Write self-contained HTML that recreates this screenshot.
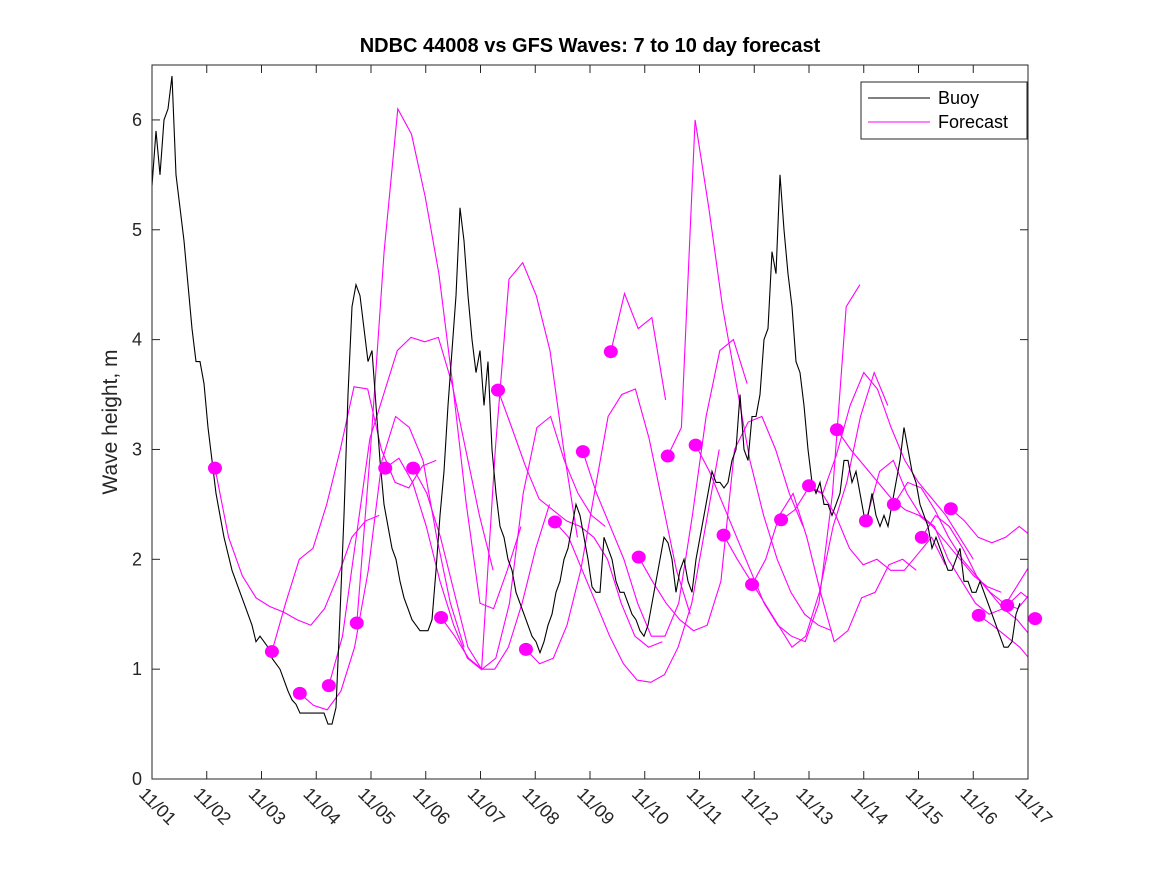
<!DOCTYPE html>
<html><head><meta charset="utf-8"><style>
body{margin:0;background:#fff;}
svg{display:block;font-family:"Liberation Sans",sans-serif;}
</style></head><body>
<svg id="chart" width="1167" height="875">
<rect x="0" y="0" width="1167" height="875" fill="#fff"/>
<defs><clipPath id="clip"><rect x="152" y="65" width="876" height="714"/></clipPath></defs>
<text x="590" y="52" text-anchor="middle" font-size="20" font-weight="bold" fill="#000">NDBC 44008 vs GFS Waves: 7 to 10 day forecast</text>
<g id="axes"></g>
<g id="forecasts" clip-path="url(#clip)"></g>
<g id="buoy" clip-path="url(#clip)"></g>
<g id="dots"></g>
<rect x="152" y="65" width="876" height="714" fill="none" stroke="#262626" stroke-width="1"/>
<text transform="translate(117,422) rotate(-90)" text-anchor="middle" font-size="21" fill="#262626">Wave height, m</text>
<g>
<rect x="861" y="82" width="166" height="57" fill="#fff" stroke="#262626"/>
<line x1="868" y1="98" x2="930" y2="98" stroke="#000"/>
<text x="938" y="104" font-size="18" fill="#000">Buoy</text>
<line x1="868" y1="122" x2="930" y2="122" stroke="#ff00ff"/>
<text x="938" y="128" font-size="18" fill="#000">Forecast</text>
</g>
</svg>
<script>
const xTickLabels=["11/01","11/02","11/03","11/04","11/05","11/06","11/07","11/08","11/09","11/10","11/11","11/12","11/13","11/14","11/15","11/16","11/17"];
const yTicks=[0,1,2,3,4,5,6];
const buoyStart=0, buoyStep=0.07306;
const buoyValues=[5.4,5.9,5.5,6.0,6.1,6.4,5.5,5.2,4.9,4.5,4.1,3.8,3.8,3.6,3.2,2.9,2.6,2.4,2.2,2.05,1.9,1.8,1.7,1.6,1.5,1.4,1.25,1.3,1.25,1.2,1.1,1.05,1.0,0.9,0.8,0.72,0.68,0.6,0.6,0.6,0.6,0.6,0.6,0.6,0.5,0.5,0.65,1.5,2.4,3.5,4.3,4.5,4.4,4.1,3.8,3.9,3.4,2.9,2.5,2.3,2.1,2.0,1.8,1.65,1.55,1.45,1.4,1.35,1.35,1.35,1.45,1.9,2.4,2.8,3.4,3.9,4.4,5.2,4.9,4.4,4.0,3.7,3.9,3.4,3.8,3.0,2.6,2.3,2.2,2.0,1.9,1.7,1.6,1.5,1.4,1.3,1.25,1.15,1.25,1.4,1.5,1.7,1.8,2.0,2.1,2.3,2.5,2.4,2.2,2.0,1.75,1.7,1.7,2.2,2.1,2.0,1.8,1.7,1.7,1.6,1.5,1.45,1.35,1.3,1.4,1.6,1.8,2.0,2.2,2.15,2.0,1.7,1.9,2.0,1.8,1.7,2.0,2.2,2.4,2.6,2.8,2.7,2.7,2.65,2.7,2.9,3.0,3.5,3.0,2.9,3.3,3.3,3.5,4.0,4.1,4.8,4.6,5.5,5.0,4.6,4.3,3.8,3.7,3.4,3.0,2.7,2.6,2.7,2.5,2.5,2.4,2.5,2.6,2.9,2.9,2.7,2.8,2.6,2.4,2.4,2.6,2.4,2.3,2.4,2.3,2.5,2.7,2.9,3.2,3.0,2.8,2.7,2.5,2.4,2.3,2.1,2.2,2.1,2.0,1.9,1.9,2.0,2.1,1.8,1.8,1.7,1.7,1.8,1.7,1.6,1.5,1.4,1.3,1.2,1.2,1.25,1.5,1.6];
const dotDays=[1.15,2.19,2.70,3.23,3.74,4.26,4.77,5.28,6.32,6.83,7.36,7.87,8.38,8.89,9.42,9.93,10.44,10.96,11.49,12.0,12.51,13.04,13.55,14.06,14.59,15.1,15.62,16.13];
const fcStep=0.25;
const fc1=[2.83,2.2,1.85,1.65,1.57,1.52,1.45,1.4,1.55,1.85,2.2,2.35,2.4];
const fc2=[1.16,1.6,2.0,2.1,2.5,3.0,3.57,3.55,3.0,2.7,2.65,2.85,2.9];
const fc3=[0.78,0.67,0.63,0.8,1.2,1.9,2.9,3.3,3.2,2.9,2.2,1.6,1.2];
const fc4=[0.85,1.3,2.2,3.1,3.5,3.9,4.02,3.98,4.02,3.6,3.0,2.4,1.9];
const fc5=[1.42,3.0,4.8,6.1,5.87,5.3,4.6,3.6,2.5,1.6,1.55,1.9,2.3];
const fc6=[2.83,2.92,2.7,2.3,1.8,1.4,1.1,1.0,1.0,1.2,1.6,2.1,2.5];
const fc7=[2.83,2.6,2.2,1.7,1.2,1.0,3.0,4.55,4.7,4.4,3.9,3.0,2.2];
const fc8=[1.47,1.3,1.1,1.0,1.1,1.6,2.6,3.2,3.3,2.9,2.6,2.4,2.3];
const fc9=[3.54,3.2,2.85,2.55,2.45,2.35,2.3,2.2,2.0,1.6,1.3,1.2,1.25];
const fc10=[1.18,1.05,1.1,1.4,1.9,2.6,3.3,3.5,3.55,3.1,2.5,1.9,1.5];
const fc11=[2.34,2.2,1.9,1.6,1.3,1.05,0.9,0.88,0.95,1.2,1.6,2.3,3.0];
const fc12=[2.98,2.6,2.3,2.0,1.6,1.3,1.3,1.6,2.4,3.3,3.9,4.0,3.6];
const fc13=[3.89,4.42,4.1,4.2,3.45];
const fc14=[2.02,1.8,1.6,1.45,1.35,1.4,1.8,3.0,3.25,3.3,3.0,2.6,2.3];
const fc15=[2.94,3.2,6.0,5.2,4.3,3.6,2.9,2.4,2.0,1.7,1.5,1.4,1.35];
const fc16=[3.04,2.8,2.5,2.2,1.9,1.6,1.4,1.3,1.25,1.6,2.6,4.3,4.5];
const fc17=[2.22,2.0,1.8,1.6,1.4,1.2,1.3,1.7,2.3,2.7,3.3,3.7,3.4];
const fc18=[1.77,2.0,2.4,2.6,2.2,1.7,1.25,1.35,1.65,1.7,1.95,2.0,1.9];
const fc19=[2.36,2.45,2.65,2.6,2.4,2.1,1.95,2.0,1.9,1.9,2.05,2.2,1.95];
const fc20=[2.67,2.6,2.95,3.4,3.7,3.55,3.2,2.9,2.7,2.55,2.4,2.2,2.0];
const fc21=[3.18,3.0,2.85,2.7,2.55,2.45,2.4,2.3,2.15,2.0,1.85,1.75,1.7];
const fc22=[2.35,2.8,2.9,2.6,2.4,2.3,2.0,1.8,1.6,1.5,1.55,1.75,1.95];
const fc23=[2.5,2.7,2.65,2.45,2.2,2.0,1.85,1.7,1.55,1.45,1.3,1.15,1.0];
const fc24=[2.2,2.4,2.3,2.1,1.85,1.7,1.6,1.55,1.7,1.9,2.3,2.7,2.6];
const fc25=[2.46,2.35,2.2,2.15,2.2,2.3,2.2,2.05,1.9,1.75,1.6,1.4,1.2];
const fc26=[1.49,1.4,1.3,1.2,1.05,0.9,0.8,0.77,0.8,1.0,1.3,1.6,1.8];
const fc27=[1.58,1.7,1.6,1.45,1.3,1.2,1.15,1.1,1.1];
const fc28=[1.46,1.4,1.2,1.1,1.05];
const forecasts=[fc1,fc2,fc3,fc4,fc5,fc6,fc7,fc8,fc9,fc10,fc11,fc12,fc13,fc14,fc15,fc16,fc17,fc18,fc19,fc20,fc21,fc22,fc23,fc24,fc25,fc26,fc27,fc28];

const X0=152,X1=1028,Y0=779,Y1=65,DMAX=16,VMAX=6.5;
function sx(d){return X0+(X1-X0)*d/DMAX;}
function sy(v){return Y0-(Y0-Y1)*v/VMAX;}
const NS="http://www.w3.org/2000/svg";
function mk(tag,attrs,parent){const e=document.createElementNS(NS,tag);for(const k in attrs)e.setAttribute(k,attrs[k]);parent.appendChild(e);return e;}
const axes=document.getElementById('axes');
yTicks.forEach(v=>{
  const y=sy(v);
  const t1=mk('line',{x1:X0,y1:y,x2:X0+8,y2:y,stroke:'#262626'},axes);
  
  
  const t2=mk('line',{x1:X1-8,y1:y,x2:X1,y2:y,stroke:'#262626'},axes);
  
  
  const l=mk('text',{x:X0-10,y:y+6,'text-anchor':'end','font-size':'18',fill:'#262626'},axes);
  l.textContent=String(v);
  
  
});
xTickLabels.forEach((s,i)=>{
  const x=sx(i);
  const t1=mk('line',{x1:x,y1:Y0,x2:x,y2:Y0-8,stroke:'#262626'},axes);
  
  
  const t2=mk('line',{x1:x,y1:Y1,x2:x,y2:Y1+8,stroke:'#262626'},axes);
  
  
  const l=mk('text',{transform:`translate(${x-14},${Y0+16}) rotate(45)`,'font-size':'18',fill:'#262626'},axes);
  l.textContent=s;
  
  
});
const fg=document.getElementById('forecasts');
forecasts.forEach((arr,i)=>{
  const pts=arr.map((v,j)=>sx(dotDays[i]+j*fcStep).toFixed(1)+','+sy(v).toFixed(1)).join(' ');
  const p=mk('polyline',{points:pts,fill:'none',stroke:'#ff00ff','stroke-width':'1.1'},fg);
  
  
});
const bg=document.getElementById('buoy');
const bpts=buoyValues.map((v,j)=>sx(buoyStart+j*buoyStep).toFixed(1)+','+sy(v).toFixed(1)).join(' ');
const bl=mk('polyline',{points:bpts,fill:'none',stroke:'#000','stroke-width':'1.1'},bg);


const dg=document.getElementById('dots');
forecasts.forEach((arr,i)=>{
  const c=mk('ellipse',{cx:sx(dotDays[i]),cy:sy(arr[0]),rx:7,ry:6.5,fill:'#ff00ff'},dg);
  
  
});
</script>
</body></html>
